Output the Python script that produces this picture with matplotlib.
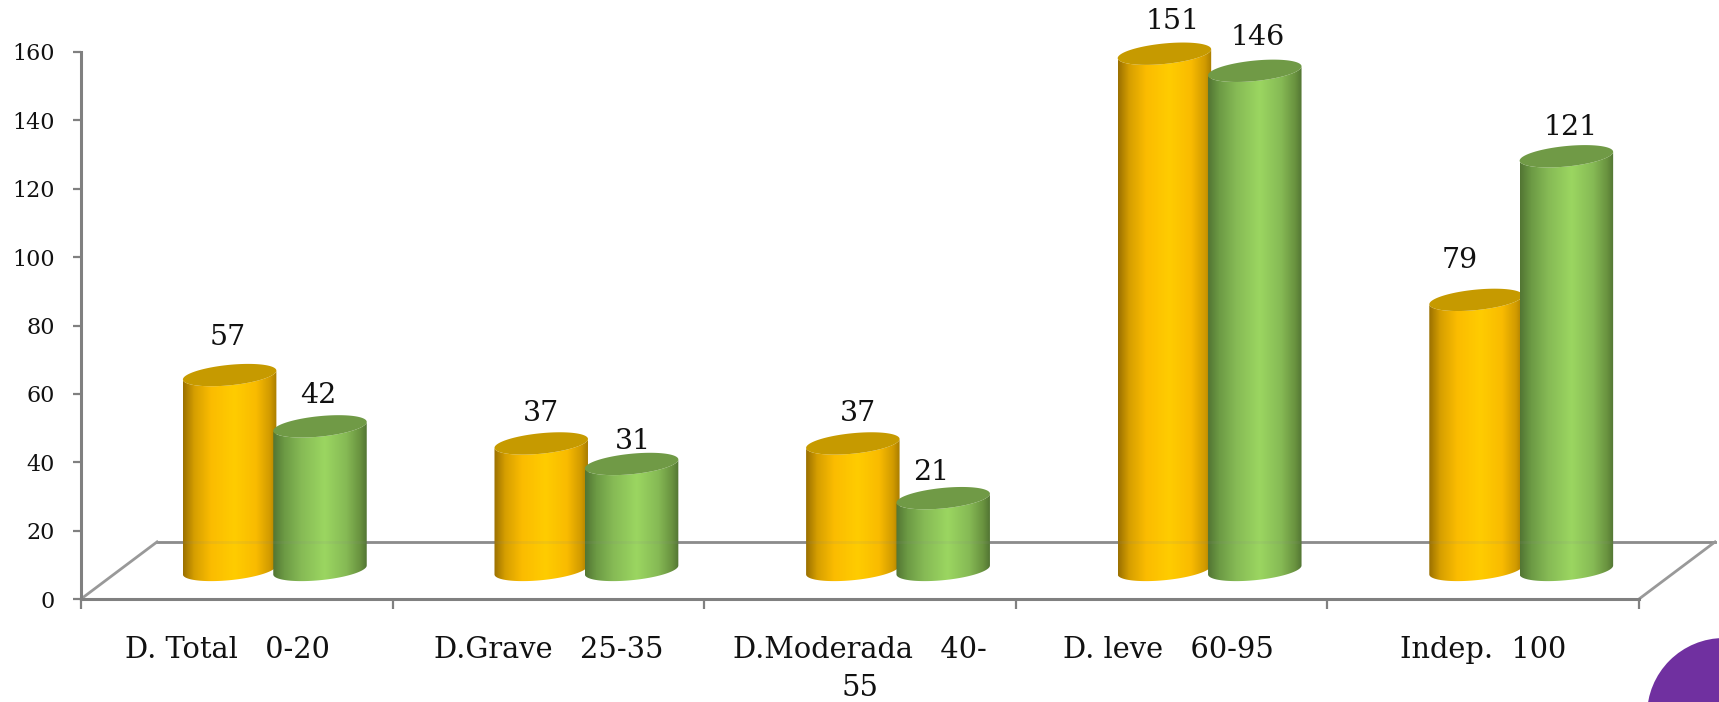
import matplotlib
matplotlib.use('Agg')
import matplotlib.pyplot as plt
import numpy as np
from matplotlib.colors import LinearSegmentedColormap
from matplotlib.patches import Circle, PathPatch
from matplotlib.path import Path

categories = ['D. Total   0-20', 'D.Grave   25-35', 'D.Moderada   40-\n55', 'D. leve   60-95', 'Indep.  100']
orange_values = [57, 37, 37, 151, 79]
green_values = [42, 31, 21, 146, 121]
y_ticks = [0, 20, 40, 60, 80, 100, 120, 140, 160]

# label nudges in pixels, from the picture
orange_label_dx = [-2, 0, 5, 8, -16]
orange_label_dy = [38, 30, 30, 32, 39]
green_label_dx = [-2, 1, -12, 3, 4]
green_label_dy = [31, 22, 26, 33, 29]
category_pos = [0.47, 1.5, 2.5, 3.49, 4.5]

plt.rcParams['font.family'] = ['DejaVu Serif', 'Liberation Serif']

W, H = 1719, 702
fig = plt.figure(figsize=(W / 100, H / 100), dpi=100)
ax = fig.add_axes([81 / W, (H - 599) / H, (1639 - 81) / W, (599 - 52) / H])
ax.set_xlim(0, 5)
ax.set_ylim(0, 160)
ax.set_autoscale_on(False)

GREY = '#808080'
FLOOR_X = 0.244   # depth shift of the back wall
FLOOR_Y = 16.7
BASE_Y = 8.5      # bars stand this far up on the floor
BAR_W = 0.30
SEMI_B = 3.0
TILT = 1.3

orange_cmap = LinearSegmentedColormap.from_list('orange', [
    (0, '#9a7000'), (0.12, '#d69f00'), (0.3, '#fbbc00'), (0.55, '#ffcc00'),
    (0.78, '#f9bb00'), (0.93, '#d09a00'), (1, '#a87c00')])
green_cmap = LinearSegmentedColormap.from_list('green', [
    (0, '#527533'), (0.12, '#6c9a44'), (0.3, '#86ba55'), (0.55, '#9bd661'),
    (0.78, '#86ba55'), (0.93, '#69923f'), (1, '#527533')])


def draw_floor(alpha=1.0, z=1):
    ax.plot([FLOOR_X, 5 + FLOOR_X], [FLOOR_Y, FLOOR_Y], color='#8c8c8c', lw=2,
            clip_on=False, zorder=z, alpha=alpha)


def draw_cylinder(cx, value, cmap, top_color, z):
    a = BAR_W / 2
    top = value + BASE_Y
    t = np.linspace(np.pi, 2 * np.pi, 60)
    bx = cx + a * np.cos(t)
    by = BASE_Y + SEMI_B * np.sin(t) + TILT * np.cos(t)
    tx = bx[::-1]
    ty = top + SEMI_B * np.sin(t)[::-1] + TILT * np.cos(t)[::-1]
    verts = np.column_stack([np.r_[bx, tx], np.r_[by, ty]])
    body = PathPatch(Path(np.vstack([verts, verts[0]])), transform=ax.transData)
    grad = np.linspace(0, 1, 256).reshape(1, -1)
    im = ax.imshow(grad, cmap=cmap, extent=[cx - a, cx + a, 0, top + 5], aspect='auto',
                   interpolation='bilinear', zorder=z)
    im.set_clip_path(body)
    im.set_clip_box(fig.bbox)
    t2 = np.linspace(0, 2 * np.pi, 120)
    ax.fill(cx + a * np.cos(t2), top + SEMI_B * np.sin(t2) + TILT * np.cos(t2),
            color=top_color, lw=0, clip_on=False, zorder=z + 0.1)


draw_floor()
for x0 in (0, 5):
    ax.plot([x0, x0 + FLOOR_X], [0, FLOOR_Y], color='#999999', lw=2, clip_on=False, zorder=1)

for i in range(len(categories)):
    ox = i + 0.477
    gx = i + 0.767
    draw_cylinder(ox, orange_values[i], orange_cmap, '#c69a00', 3)
    draw_cylinder(gx, green_values[i], green_cmap, '#709a46', 4)
    ax.annotate(str(orange_values[i]), (ox, orange_values[i] + BASE_Y),
                xytext=(orange_label_dx[i], orange_label_dy[i]), textcoords='offset pixels',
                ha='center', va='center', fontsize=20.5, color='#111111', annotation_clip=False, zorder=6)
    ax.annotate(str(green_values[i]), (gx, green_values[i] + BASE_Y),
                xytext=(green_label_dx[i], green_label_dy[i]), textcoords='offset pixels',
                ha='center', va='center', fontsize=20.5, color='#111111', annotation_clip=False, zorder=6)

draw_floor(alpha=0.12, z=5)

for s in ('top', 'right'):
    ax.spines[s].set_visible(False)
for s in ('left', 'bottom'):
    ax.spines[s].set_color(GREY)
    ax.spines[s].set_linewidth(2.2)
    ax.spines[s].set_zorder(2)

ax.set_yticks(y_ticks)
ax.tick_params(axis='y', length=6, width=1.6, color=GREY, labelsize=16, pad=13, labelcolor='#111111')
ax.set_xticks(range(6))
ax.set_xticklabels([])
ax.tick_params(axis='x', which='major', length=7, width=1.6, color=GREY)
ax.set_xticks(category_pos, minor=True)
ax.set_xticklabels(categories, minor=True, fontsize=20.8, color='#111111', linespacing=1.42)
ax.tick_params(axis='x', which='minor', length=0, pad=27)

# purple circle running off the corner
fig.add_artist(Circle((1724, H - 715), 77, transform=None, color='#7030a0', lw=0))

fig.savefig('out.png', dpi=100)
